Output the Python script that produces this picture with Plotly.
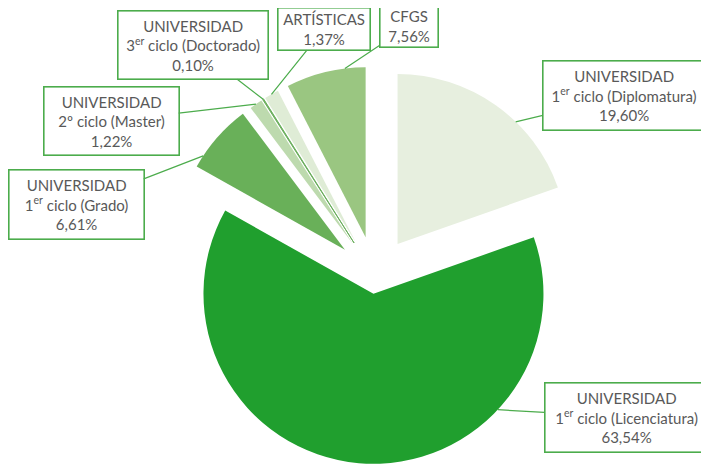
import math
import plotly.graph_objects as go

# Datos
categorias = [
    "UNIVERSIDAD<br>1<sup>er</sup> ciclo (Diplomatura)",
    "UNIVERSIDAD<br>1<sup>er</sup> ciclo (Licenciatura)",
    "UNIVERSIDAD<br>1<sup>er</sup> ciclo (Grado)",
    "UNIVERSIDAD<br>2º ciclo (Master)",
    "UNIVERSIDAD<br>3<sup>er</sup> ciclo (Doctorado)",
    "ARTÍSTICAS",
    "CFGS",
]
porcentajes = [19.60, 63.54, 6.61, 1.22, 0.10, 1.37, 7.56]

# Estilo
colores = ["#e7efdf", "#209f2e", "#69b059", "#bddaae", "#6aae5c", "#dfecd6", "#9ac681"]
separacion = [0.23, 0.105, 0.235, 0.23, 0.23, 0.23, 0.235]
# centro de cada etiqueta (px de ventana) y tamaño de la caja
pos_etiqueta = [(624, 96), (626, 417), (76, 205), (111, 121), (193, 45), (324, 29), (409, 26)]
tam_caja = [(161, 68), (162, 68), (134, 68), (134, 67), (149, 67), (91, 41), (57, 41)]
angulo_guia = [44, 133, 303.5, None, None, None, 353]

# la página deja 8 px de margen alrededor de la figura
DESP = 8
W, H = 709 - DESP, 465 - DESP
R = 170
OX, OY = 375 - DESP, 276 - DESP
VERDE = "#4cac4c"
GRIS = "#595959"

fig = go.Figure()
total = sum(porcentajes)
inicio = 0.0
anotaciones = []
for i, v in enumerate(porcentajes):
    ang = v / total * 360
    medio = inicio + ang / 2
    d = separacion[i] * R
    cx = OX + d * math.sin(math.radians(medio))
    cy = OY - d * math.cos(math.radians(medio))
    dx = [max(0, (cx - R) / W), min(1, (cx + R) / W)]
    dy = [max(0, 1 - (cy + R) / H), min(1, 1 - (cy - R) / H)]

    cols = [colores[j] if j == i else "rgba(0,0,0,0)" for j in range(len(porcentajes))]
    fig.add_trace(go.Pie(
        values=porcentajes,
        labels=[c.replace("<br>", " ") for c in categorias],
        marker=dict(colors=cols, line=dict(color=cols, width=[1 if i == 4 else 0] * len(cols))),
        sort=False, direction="clockwise", rotation=0,
        textinfo="none", hoverinfo="label+percent",
        domain=dict(x=dx, y=dy),
        showlegend=False,
    ))

    a = angulo_guia[i] if angulo_guia[i] is not None else medio
    tx = cx + R * math.sin(math.radians(a))
    ty = cy - R * math.cos(math.radians(a))
    lx, ly = pos_etiqueta[i][0] - DESP, pos_etiqueta[i][1] - DESP
    texto = categorias[i] + "<br>" + f"{v:.2f}".replace(".", ",") + "%"
    anotaciones.append(dict(
        x=tx / W, y=1 - ty / H, xref="paper", yref="paper",
        ax=lx - tx, ay=ly - ty,
        text=texto, showarrow=True, arrowhead=0, arrowwidth=1.2, arrowcolor=VERDE,
        standoff=0, startstandoff=0,
        width=tam_caja[i][0], height=tam_caja[i][1],
        bgcolor="white", bordercolor=VERDE, borderwidth=1.6, borderpad=0,
        font=dict(family="Lato", size=15, color=GRIS),
        align="center", valign="middle",
    ))
    inicio += ang

fig.update_layout(
    width=W, height=H,
    margin=dict(l=0, r=0, t=0, b=0),
    paper_bgcolor="white",
    annotations=anotaciones,
)

fig.write_html("out.html")
